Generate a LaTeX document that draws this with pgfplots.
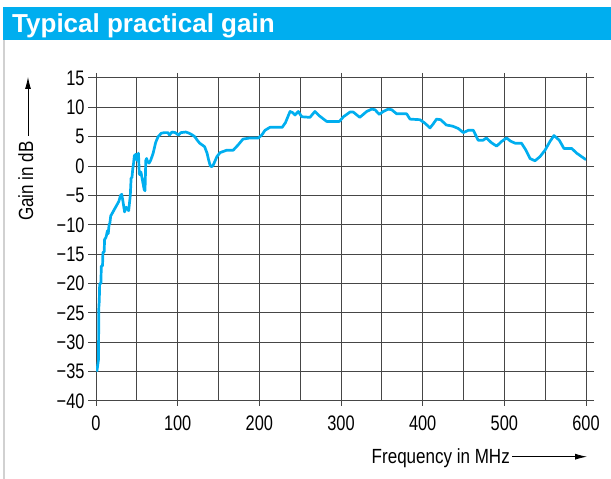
\documentclass[border=0pt]{standalone}
\usepackage{fontspec}
\setmainfont{Liberation Sans}
\newfontfamily\lab{Liberation Sans}[FakeStretch=0.83]
\newfontfamily\tlab{Liberation Sans}[FakeStretch=0.78]
\usepackage{pgfplots}
\pgfplotsset{compat=1.18}
\usetikzlibrary{arrows.meta}
\definecolor{cyanline}{RGB}{0,174,239}
\definecolor{gridc}{RGB}{70,70,70}
\begin{document}
\begin{tikzpicture}[x=1pt,y=1pt]
\path[use as bounding box] (0,0) rectangle (611,479);
\fill[cyanline] (3,439) rectangle (611,472);
\node[anchor=base west,inner sep=0pt,text=white,font=\bfseries\fontsize{26}{29}\selectfont] at (12,446.5) {Typical practical gain};
\draw[black!18,line width=2pt] (4,0) -- (4,439);
\begin{axis}[
  at={(96pt,78pt)}, anchor=south west,
  scale only axis, width=490pt, height=323pt,
  xmin=0, xmax=600, ymin=-40, ymax=15,
  xtick={0,100,...,600},
  minor xtick={50,150,...,550},
  ytick={-40,-35,...,15},
  yticklabels={−40,−35,−30,−25,−20,−15,−10,−5,0,5,10,15},
  xticklabels={0,100,200,300,400,500,600},
  grid=both,
  major grid style={gridc,line width=1pt},
  minor grid style={gridc,line width=1pt},
  axis line style={gridc,line width=1pt},
  tick style={gridc,line width=1pt},
  tick align=outside,
  minor tick length=0pt,
  ytick style={/pgfplots/major tick length=8pt},
  xtick style={/pgfplots/major tick length=5pt},
  ticklabel style={font=\tlab\fontsize{21}{23}\selectfont},
  yticklabel style={inner sep=0pt, xshift=-7pt},
  xticklabel style={inner sep=0pt, yshift=-10pt},
  clip=true,
]
\addplot[cyanline, line width=2.7pt, line join=round] coordinates {
(1,-35) (3,-33) (3.5,-24) (4,-23) (4.5,-20) (6,-20) (6.5,-17) (8,-17) (8.5,-14.7) (10,-14.6) (10.5,-12.5) (12,-12.2) (12.5,-12) (14,-11) (15,-11.5) (16,-10) (17,-9.7) (18,-8.5) (20,-8) (22,-7.5) (24,-7) (26,-6.5) (28,-6) (30,-5) (31.5,-4.8) (33,-6) (35,-7.8) (37,-7) (40,-7.6) (42,-5) (43,-2) (44,-2) (45,-0.5) (46,0.5) (47,1.8) (49,2) (50,1) (52,2.2) (53,-1.3) (54,-1.5) (55,-1) (57,-2.5) (59,-4) (60,-4.2) (61,1) (62,1.3) (63,0.8) (65,0.5) (67,1) (70,2.2) (73,4) (76,5) (80,5.6) (84,5.7) (88,5.7) (90,5.3) (93,5.8) (97,5.7) (101,5.3) (104,5.7) (110,5.8) (114,5.6) (118,5.3) (121,5.0) (124,4.4) (127,3.9) (133,3.3) (136,2.2) (138,1) (140,0) (142,-0.1) (144,0.3) (148,1.6) (152,2.3) (156,2.5) (160,2.7) (168,2.7) (174,3.6) (180,4.6) (189,4.8) (199,4.8) (203,5.3) (207,6.1) (213,6.6) (228,6.6) (232,7.4) (237.6,9.3) (240.8,9.1) (243.7,8.7) (247.7,9.3) (251.9,8.4) (262,8.3) (268,9.3) (274,8.5) (282.5,7.6) (298,7.6) (303,8.4) (311,9.2) (315,9.2) (323,8.3) (331.5,9.3) (337.6,9.7) (341.6,9.6) (346.9,8.8) (351.8,9.3) (357.9,9.7) (362,9.6) (368.2,8.9) (380.4,8.9) (384.5,8.0) (396.7,7.9) (402.8,7.3) (409,6.5) (413,7.2) (417,8.0) (422,7.9) (429,7.0) (436.7,6.8) (443.6,6.4) (449.8,5.7) (456,6.1) (462,6.1) (468,4.4) (474,4.4) (478,4.8) (484,4.0) (490.6,3.4) (496.7,4.2) (502.8,4.8) (507,4.3) (513,3.9) (521,3.9) (526.5,2.7) (531.4,1.3) (537.5,0.9) (543.6,1.6) (549.8,2.7) (555.9,4.2) (560.8,5.2) (567.3,4.4) (573,3.0) (582.5,3.0) (588.6,2.2) (598.8,1.2) (600,1.1)
};
\end{axis}
% axis labels with arrows
\node[anchor=base east,inner sep=0pt,font=\lab\fontsize{20.5}{23}\selectfont] at (510,15) {Frequency in MHz};
\draw[line width=0.8pt,-{Latex[length=12pt,width=6pt]}] (512,22.3) -- (587,22.3);
\node[rotate=90,anchor=base,inner sep=0pt,font=\lab\fontsize{20.5}{23}\selectfont] at (33,298) {Gain in dB};
\draw[line width=0.8pt,-{Latex[length=12pt,width=6pt]}] (28,343) -- (28,402);
\end{tikzpicture}
\end{document}
